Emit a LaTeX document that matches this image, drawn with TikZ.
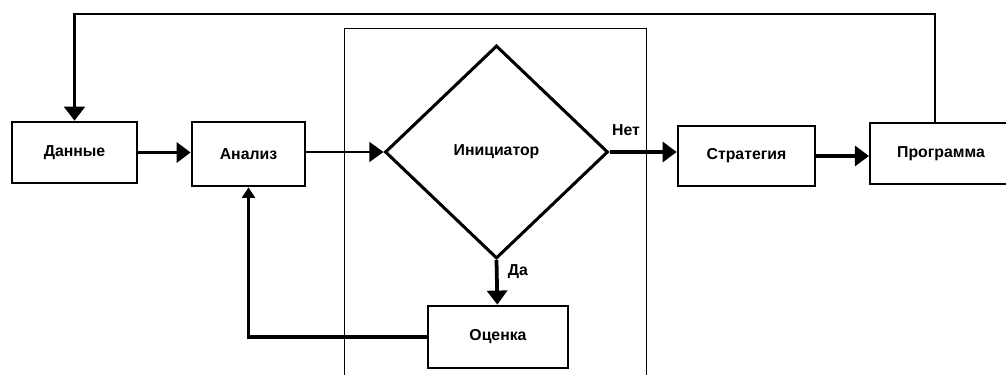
\documentclass[tikz,border=0pt]{standalone}
\usepackage{fontspec}
\setmainfont{Liberation Sans}
\usetikzlibrary{shapes.geometric,arrows.meta}
\tikzset{
  blok/.style={draw,line width=2.3pt,inner sep=0pt,font=\bfseries\fontsize{13.5}{15}\selectfont},
  romb/.style={draw,diamond,line width=2.6pt,inner sep=0pt,font=\bfseries\fontsize{13.5}{15}\selectfont},
  potok/.style={line width=3.2pt,-{Triangle[length=12pt,width=17pt]}},
  tonk/.style={line width=1.3pt,-{Triangle[length=12pt,width=17pt]}},
  svyaz/.style={line width=1.8pt},
  metka/.style={font=\bfseries\fontsize{13.5}{15}\selectfont}
}
\begin{document}
\begin{tikzpicture}[x=0.03cm,y=-0.03cm]
     \useasboundingbox (0,0) rectangle (1006,375);
     % рамка
     \draw[line width=0.8pt] (344,28) rectangle (646,395);
     \node[blok,minimum width=3.75cm,minimum height=1.83cm] (dan) at (74.5,152.5) {Данные};
     \node[blok,minimum width=3.39cm,minimum height=1.92cm] (an) at (248.5,154) {Анализ};
     \node[romb,minimum width=6.69cm,minimum height=6.39cm] (ini) at (496.5,152) {Инициатор};
     \node[blok,minimum width=4.2cm,minimum height=1.86cm] (ots) at (498,337) {Оценка};
     \node[blok,minimum width=4.11cm,minimum height=1.8cm] (str) at (746.5,156) {Стратегия};
     \node[blok,line width=1.8pt,minimum width=4.26cm,minimum height=1.83cm] (prog) at (941,153.5) {Программа};
     \coordinate (tr) at (935,14);
     \coordinate (tl) at (74.5,14);
     % стрелки
     \draw[potok] (dan) -- (dan -| an.west);
     \draw[tonk] (an.east |- ini) -- (ini.west);
     \draw[potok] (ini.east) -- (ini.east -| str.west);
     \draw[potok] (str) -- (str -| prog.west);
     \draw[potok] (ini.south) -- (ots);
     \draw[line width=2.6pt,-{Triangle[length=9pt,width=11pt]}] (ots.west) -| (an.south);
     \draw[svyaz,-{Triangle[length=12pt,width=18pt]}] (prog.north -| tr) -- (tr) -- (tl) -- (dan.north);
     \node[metka] (net) at (626,130) {Нет};
     \node[metka] (da) at (518,272) {Да};
\end{tikzpicture}
\end{document}
